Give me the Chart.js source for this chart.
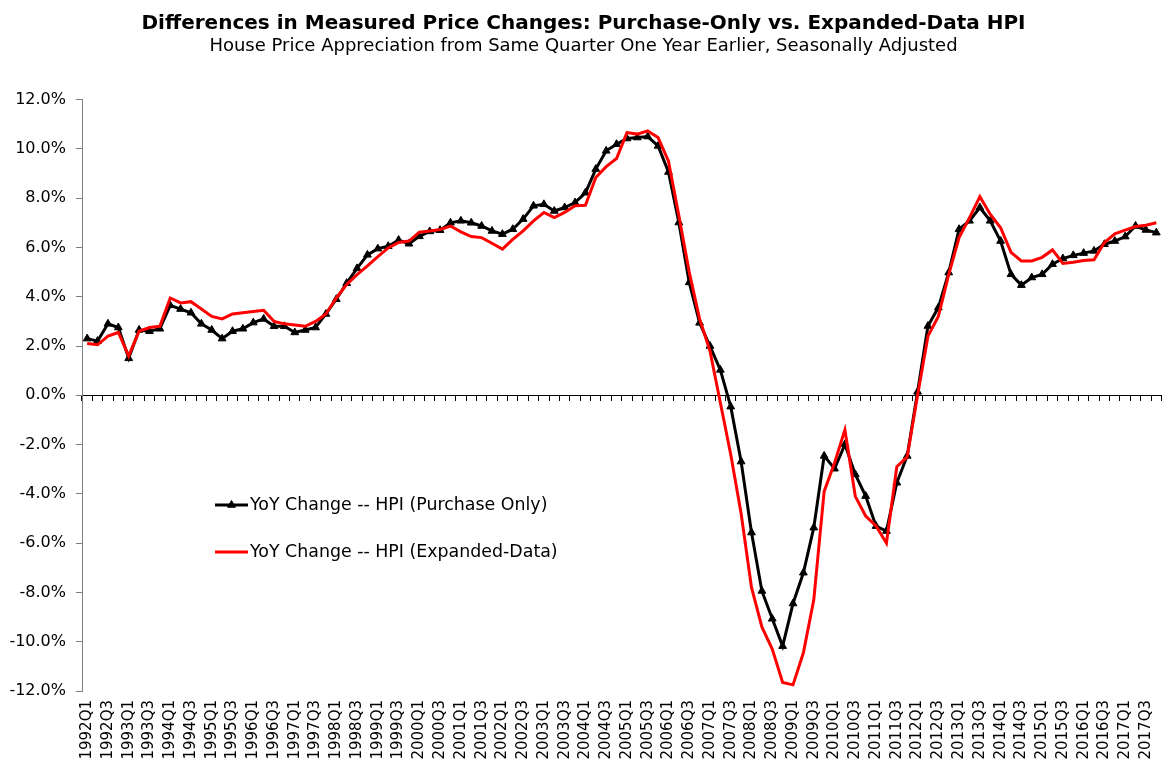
<!DOCTYPE html>
<html>
<head>
<meta charset="utf-8">
<script src="https://cdn.jsdelivr.net/npm/chart.js@4.4.0/dist/chart.umd.min.js"></script>
<style>
html,body{margin:0;padding:0;background:#fff;overflow:hidden;}
canvas{display:block;}
</style>
</head>
<body>
<canvas id="c" width="1167" height="765"></canvas>
<script>
// ---- data ----
const years = [1992,1993,1994,1995,1996,1997,1998,1999,2000,2001,2002,2003,2004,2005,2006,2007,2008,2009,2010,2011,2012,2013,2014,2015,2016,2017];
const quarterNames = ['Q1','Q2','Q3','Q4'];
const categories = years.flatMap(y => quarterNames.map(q => y + q));

// YoY change, percent
const purchaseOnly = [
  2.30, 2.20, 2.90, 2.75, 1.50, 2.65, 2.60, 2.70,
  3.65, 3.50, 3.35, 2.90, 2.65, 2.30, 2.60, 2.70,
  2.95, 3.10, 2.80, 2.80, 2.55, 2.65, 2.75, 3.30,
  3.90, 4.55, 5.15, 5.70, 5.95, 6.05, 6.30, 6.15,
  6.45, 6.65, 6.70, 7.00, 7.08, 7.00, 6.87, 6.67,
  6.54, 6.74, 7.15, 7.69, 7.75, 7.48, 7.62, 7.82,
  8.22, 9.18, 9.92, 10.19, 10.42, 10.46, 10.50, 10.12,
  9.06, 7.01, 4.58, 2.94, 2.00, 1.03, -0.46, -2.69,
  -5.57, -7.94, -9.07, -10.18, -8.45, -7.20, -5.37, -2.46,
  -2.98, -1.99, -3.21, -4.09, -5.31, -5.51, -3.55, -2.46,
  0.14, 2.81, 3.56, 4.98, 6.74, 7.08, 7.62, 7.08,
  6.26, 4.91, 4.47, 4.78, 4.91, 5.32, 5.55, 5.68,
  5.77, 5.86, 6.13, 6.26, 6.44, 6.87, 6.71, 6.60
];
const expandedData = [
  2.10, 2.05, 2.40, 2.55, 1.60, 2.60, 2.75, 2.80,
  3.95, 3.75, 3.80, 3.50, 3.20, 3.10, 3.30, 3.35,
  3.40, 3.45, 3.00, 2.90, 2.85, 2.80, 3.00, 3.30,
  3.95, 4.50, 4.90, 5.25, 5.63, 5.98, 6.20, 6.26,
  6.62, 6.67, 6.73, 6.87, 6.63, 6.44, 6.40, 6.17,
  5.93, 6.33, 6.67, 7.08, 7.42, 7.21, 7.42, 7.69,
  7.71, 8.84, 9.28, 9.61, 10.66, 10.60, 10.73, 10.46,
  9.50, 7.30, 5.00, 3.10, 1.80, -0.30, -2.40, -4.80,
  -7.80, -9.40, -10.30, -11.65, -11.75, -10.45, -8.30, -3.90,
  -2.75, -1.40, -4.10, -4.90, -5.30, -6.00, -2.90, -2.50,
  0.00, 2.40, 3.20, 4.90, 6.40, 7.20, 8.06, 7.35,
  6.80, 5.80, 5.45, 5.45, 5.60, 5.90, 5.35, 5.40,
  5.47, 5.50, 6.20, 6.55, 6.70, 6.85, 6.90, 7.00
];
const seriesNames = ['YoY Change -- HPI (Purchase Only)', 'YoY Change -- HPI (Expanded-Data)'];
const titleText = 'Differences in Measured Price Changes: Purchase-Only vs. Expanded-Data HPI';
const subtitleText = 'House Price Appreciation from Same Quarter One Year Earlier, Seasonally Adjusted';
const yMin = -12, yMax = 12, yStep = 2;

// ---- in-plot legend ----
const insideLegend = {
  id: 'insideLegend',
  afterDatasetsDraw(chart) {
    const ctx = chart.ctx;
    const rows = [{ds: 0, y: 505}, {ds: 1, y: 552}];
    const x0 = 215, x1 = 248;
    ctx.save();
    rows.forEach(r => {
      const ds = chart.data.datasets[r.ds];
      ctx.strokeStyle = ds.borderColor;
      ctx.lineWidth = ds.borderWidth;
      ctx.beginPath();
      ctx.moveTo(x0, r.y);
      ctx.lineTo(x1, r.y);
      ctx.stroke();
      if (ds.pointStyle && ds.pointRadius > 0) {
        ctx.fillStyle = ds.pointBackgroundColor;
        ctx.strokeStyle = ds.pointBorderColor;
        ctx.lineWidth = 1;
        Chart.helpers.drawPoint(ctx, {pointStyle: ds.pointStyle, radius: ds.pointRadius, rotation: 0, borderWidth: 1}, (x0 + x1) / 2, r.y);
      }
      ctx.fillStyle = '#000';
      ctx.font = '17.4px "DejaVu Sans"';
      ctx.textBaseline = 'middle';
      ctx.textAlign = 'left';
      ctx.fillText(ds.label, x1 + 2, r.y);
    });
    ctx.restore();
  }
};

const noSidePadding = s => { s.paddingLeft = 0; s.paddingRight = 0; };

new Chart(document.getElementById('c'), {
  type: 'line',
  data: {
    labels: categories,
    datasets: [
      {
        label: seriesNames[0],
        data: purchaseOnly,
        xAxisID: 'x', yAxisID: 'y',
        borderColor: '#000000',
        borderWidth: 3,
        pointStyle: 'triangle',
        pointRadius: 4.5,
        pointBackgroundColor: '#000000',
        pointBorderColor: '#000000',
        pointBorderWidth: 1,
        tension: 0,
        order: 1
      },
      {
        label: seriesNames[1],
        data: expandedData,
        xAxisID: 'x', yAxisID: 'y',
        borderColor: '#FF0000',
        borderWidth: 3,
        pointRadius: 0,
        tension: 0,
        order: 0
      }
    ]
  },
  options: {
    responsive: false,
    animation: false,
    devicePixelRatio: 1,
    layout: {padding: {left: 0, right: 0, top: 0, bottom: 0}},
    plugins: {
      legend: {display: false},
      tooltip: {enabled: false},
      title: {
        display: true, text: titleText, color: '#000',
        font: {family: '"DejaVu Sans"', size: 20, weight: 'bold'},
        padding: {top: 12, bottom: 0}
      },
      subtitle: {
        display: true, text: subtitleText, color: '#000',
        font: {family: '"DejaVu Sans"', size: 18},
        padding: {top: 0, bottom: 42}
      }
    },
    scales: {
      x: {
        type: 'category',
        offset: true,
        grid: {display: false, drawTicks: false},
        border: {display: false},
        ticks: {
          autoSkip: false, maxRotation: 90, minRotation: 90, padding: 9,
          color: '#000', font: {family: '"DejaVu Sans"', size: 15},
          callback: (v, i) => (i % 2 === 0 ? categories[i] : '')
        },
        afterFit: s => { s.height = 74; noSidePadding(s); }
      },
      x0: {
        type: 'category',
        position: {y: 0},
        offset: true,
        grid: {display: true, drawOnChartArea: false, drawTicks: true, tickLength: 5, color: '#000', offset: true},
        border: {display: true, color: '#000', width: 1},
        ticks: {display: false},
        afterFit: noSidePadding
      },
      y: {
        min: yMin, max: yMax,
        ticks: {
          stepSize: yStep, padding: 10, color: '#000',
          font: {family: '"DejaVu Sans"', size: 16},
          callback: v => v.toFixed(1) + '%'
        },
        grid: {drawOnChartArea: false, drawTicks: true, tickLength: 6, color: '#808080'},
        border: {display: true, color: '#808080', width: 1},
        afterFit: s => { s.width = 82; }
      }
    }
  },
  plugins: [insideLegend]
});
</script>
</body>
</html>
